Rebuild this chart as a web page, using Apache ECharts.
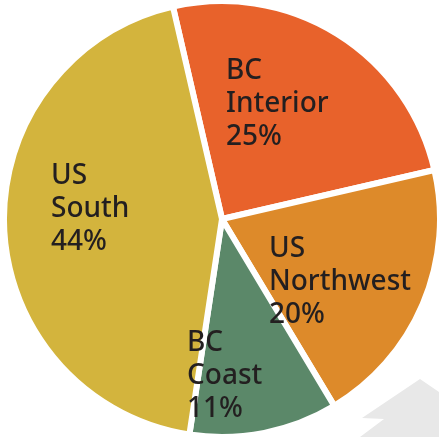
<!DOCTYPE html>
<html>
<head>
<meta charset="utf-8">
<script src="https://cdn.jsdelivr.net/npm/echarts@6/dist/echarts.min.js"></script>
<style>
  html, body { margin: 0; padding: 0; background: #fff; }
  #chart { width: 439px; height: 437px; }
</style>
</head>
<body>
<div id="chart"></div>
<script>
// timber supply share by region
var regions = ['BC Interior', 'US Northwest', 'BC Coast', 'US South'];
var shares = [25, 20, 11, 44];
var sliceColors = ['#E8622B', '#DD8A2A', '#5B8869', '#D3B43D'];
// where each label's top-left sits (page px)
var labelPos = [[226, 55], [269, 233], [187, 327], [51, 160]];

var myChart = echarts.init(document.getElementById('chart'));

var option = {
    animation: false,
    graphic: [{
        type: 'polygon',
        z: -1,
        shape: { points: [[420, 379], [439, 392], [439, 437], [360, 437], [384, 419], [362, 418]] },
        style: { fill: '#E8E8E8' }
    }],
    series: [{
        type: 'pie',
        center: [222, 219],
        radius: 218,
        startAngle: 103,
        clockwise: true,
        itemStyle: { borderColor: '#fff', borderWidth: 6 },
        label: {
            show: true,
            position: 'inside',
            color: '#231F20',
            fontFamily: 'Noto Sans',
            fontWeight: 500,
            fontSize: 28,
            lineHeight: 33,
            align: 'left',
            formatter: function (p) {
                return p.name.replace(' ', '\n') + '\n' + p.value + '%';
            }
        },
        labelLayout: function (p) {
            var pos = labelPos[p.dataIndex];
            return { x: pos[0], y: pos[1], align: 'left', verticalAlign: 'top' };
        },
        emphasis: { disabled: true },
        data: regions.map(function (r, i) {
            return { name: r, value: shares[i], itemStyle: { color: sliceColors[i] } };
        })
    }]
};
myChart.setOption(option);
</script>
</body>
</html>
